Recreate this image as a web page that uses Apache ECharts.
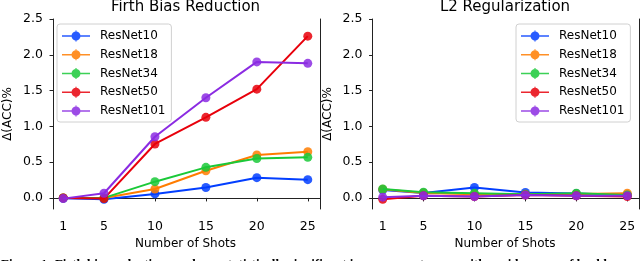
<!DOCTYPE html>
<html><head><meta charset="utf-8">
<script src="https://cdn.jsdelivr.net/npm/echarts@6/dist/echarts.min.js"></script>
<style>html,body{margin:0;padding:0;background:#fff}#c{width:640px;height:261px}</style>
</head><body><div id="c"></div>
<script>
var shots = [1, 5, 10, 15, 20, 25];
var xTicks = [1, 5, 10, 15, 20, 25];
var yTicks = [0, 0.5, 1.0, 1.5, 2.0, 2.5];
var names = ['ResNet10', 'ResNet18', 'ResNet34', 'ResNet50', 'ResNet101'];
var colors = ['#023eff', '#ff7c00', '#1ac938', '#e8000b', '#8b2be2'];
var titles = ['Firth Bias Reduction', 'L2 Regularization'];

var firthResNet10  = [-0.005, -0.02, 0.056, 0.145, 0.283, 0.255];
var firthResNet18  = [0.0, 0.0, 0.125, 0.38, 0.60, 0.645];
var firthResNet34  = [0.0, 0.0, 0.227, 0.427, 0.55, 0.567];
var firthResNet50  = [0.0, -0.01, 0.754, 1.126, 1.52, 2.26];
var firthResNet101 = [-0.01, 0.065, 0.855, 1.40, 1.90, 1.88];

var l2ResNet10  = [0.11, 0.07, 0.145, 0.075, 0.06, 0.04];
var l2ResNet18  = [0.12, 0.07, 0.05, 0.05, 0.055, 0.065];
var l2ResNet34  = [0.125, 0.08, 0.065, 0.05, 0.065, 0.04];
var l2ResNet50  = [-0.02, 0.03, 0.02, 0.04, 0.03, 0.02];
var l2ResNet101 = [0.01, 0.03, 0.02, 0.04, 0.03, 0.03];

var caption = 'Figure 1: Firth bias reduction produces statistically significant improvements even with a wide range of backbone';

var firthData = [firthResNet10, firthResNet18, firthResNet34, firthResNet50, firthResNet101];
var l2Data = [l2ResNet10, l2ResNet18, l2ResNet34, l2ResNet50, l2ResNet101];

var FONT = 'DejaVu Sans';
var grids = [
  {left: 51, top: 19, width: 269, height: 190},
  {left: 370.5, top: 19, width: 269, height: 190}
];
var iconPath = 'path://M0,5.2H28V6.8H0Z M13.4,0.5H14.6V11.5H13.4Z M9.5,6a4.5,4.5 0 1,1 9,0a4.5,4.5 0 1,1 -9,0Z';

function pairs(arr) { return shots.map(function (s, i) { return [s, arr[i]]; }); }

var xAxes = [], yAxes = [], series = [], titleArr = [], legends = [];
[0, 1].forEach(function (p) {
  xAxes.push({
    type: 'value', gridIndex: p, min: -0.2, max: 26.2,
    name: 'Number of Shots', nameLocation: 'middle', nameGap: 26,
    nameTextStyle: {fontFamily: FONT, fontSize: 12, color: '#000'},
    axisLine: {show: true, lineStyle: {color: '#222', width: 1}},
    axisTick: {show: true, length: 3.5, lineStyle: {color: '#222'}, customValues: xTicks},
    axisLabel: {fontFamily: FONT, fontSize: 12.5, color: '#000', margin: 11, customValues: xTicks},
    splitLine: {show: false}
  });
  yAxes.push({
    type: 'value', gridIndex: p, min: -0.155, max: 2.5,
    name: 'Δ(ACC)%', nameLocation: 'middle', nameGap: 37,
    nameTextStyle: {fontFamily: FONT, fontSize: 12, color: '#000'},
    axisLine: {show: true, lineStyle: {color: '#222', width: 1}},
    axisTick: {show: true, length: 3.5, lineStyle: {color: '#222'}, customValues: yTicks},
    axisLabel: {fontFamily: FONT, fontSize: 12.5, color: '#000', margin: 8, customValues: yTicks,
      formatter: function (v) { return v.toFixed(1); }},
    splitLine: {show: false}
  });
  yAxes.push({
    type: 'value', gridIndex: p, position: 'right', min: -0.155, max: 2.5,
    axisLine: {show: true, onZero: false, lineStyle: {color: '#222', width: 1}},
    axisTick: {show: false}, axisLabel: {show: false}, splitLine: {show: false}
  });
  titleArr.push({
    text: titles[p], left: grids[p].left + grids[p].width / 2, textAlign: 'center', top: 0, padding: 0,
    textStyle: {fontFamily: FONT, fontSize: 15, fontWeight: 'normal', color: '#000'}
  });
  var data = p === 0 ? firthData : l2Data;
  names.forEach(function (n, i) {
    series.push({
      name: n, type: 'line', xAxisIndex: p, yAxisIndex: p * 2,
      data: pairs(data[i]), clip: false,
      symbol: 'circle', symbolSize: 9, showSymbol: true,
      lineStyle: {color: colors[i], width: 2},
      itemStyle: {color: colors[i], opacity: 0.85},
      z: 2 + i, animation: false
    });
  });
});
[57, 516].forEach(function (lx) {
  legends.push({
    orient: 'vertical', left: lx, top: 24, padding: [6, 6, 5, 5], itemGap: 6.75,
    itemWidth: 28, itemHeight: 12, icon: iconPath, data: names,
    backgroundColor: '#fff', borderColor: '#d0d0d0', borderWidth: 1, borderRadius: 3,
    textStyle: {fontFamily: FONT, fontSize: 12, color: '#000', padding: [0, 0, 0, 5]},
    selectedMode: false
  });
});

var chart = echarts.init(document.getElementById('c'), null, {renderer: 'canvas'});
chart.setOption({
  animation: false,
  backgroundColor: '#fff',
  title: titleArr,
  grid: grids,
  xAxis: xAxes,
  yAxis: yAxes,
  legend: legends,
  series: series,
  graphic: [{
    type: 'text', left: 1, top: 258.5,
    style: {text: caption, font: 'bold 13px "Liberation Serif"', fill: '#000'}
  }]
});
</script></body></html>
